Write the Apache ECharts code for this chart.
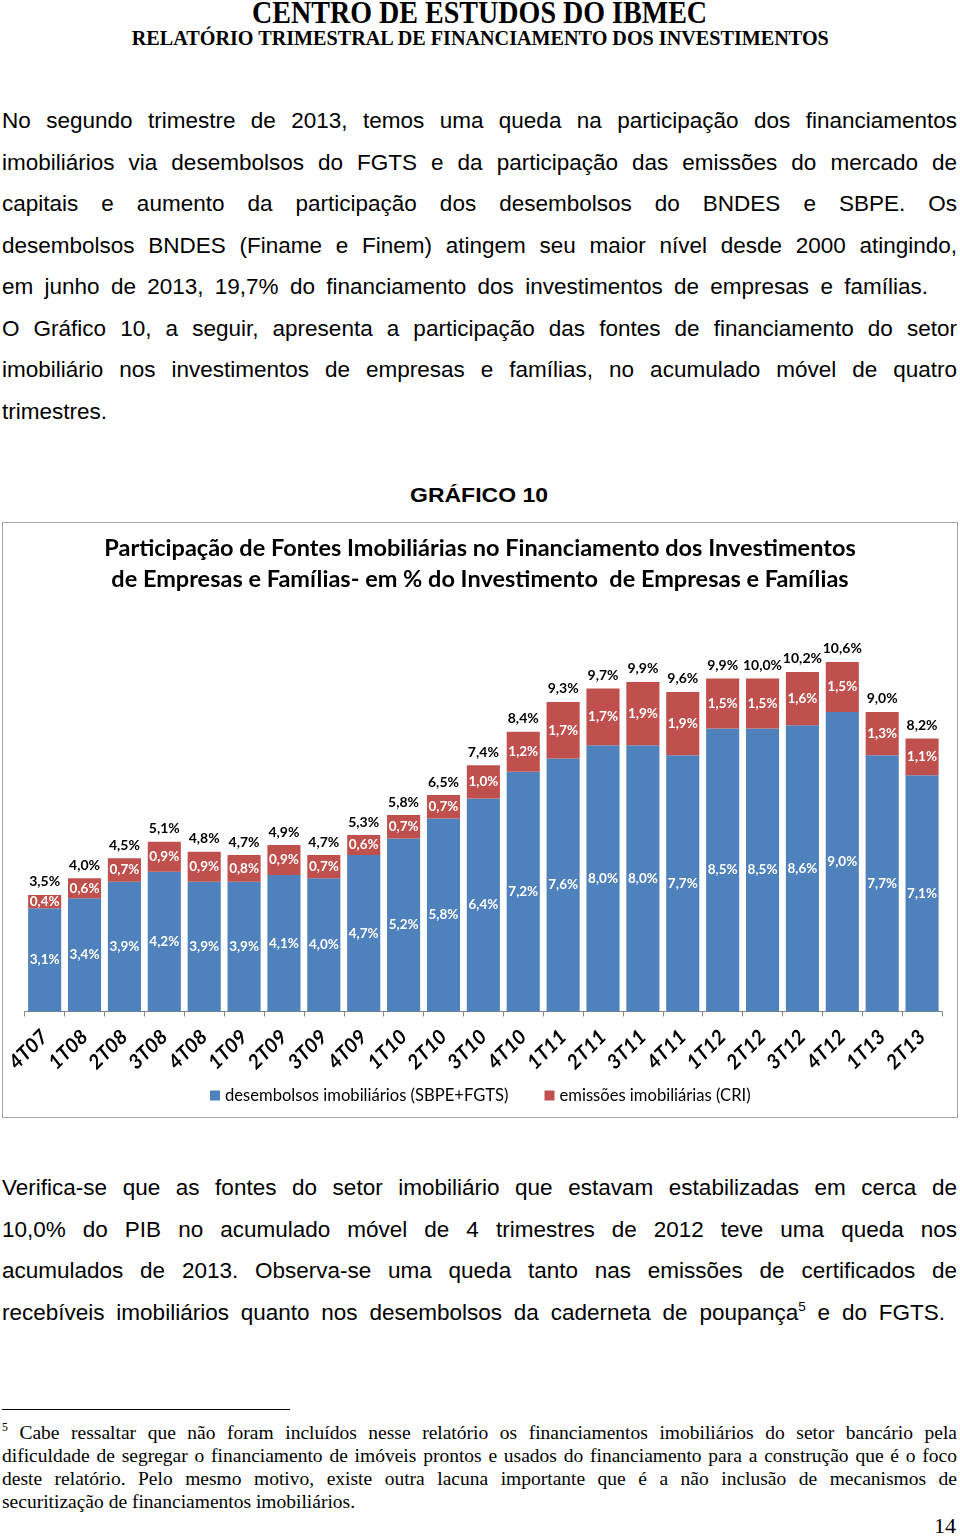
<!DOCTYPE html>
<html>
<head>
<meta charset="utf-8">
<script src="https://cdn.jsdelivr.net/npm/echarts@6/dist/echarts.min.js"></script>
<style>
  html, body { margin: 0; padding: 0; background: #fff; }
  body { width: 960px; height: 1538px; position: relative; overflow: hidden; }
  .abs { position: absolute; }
  .fit { white-space: nowrap; transform-origin: center center; display: inline-block; }
  .serif { font-family: "Liberation Serif", "Times New Roman", serif; }
  .sans { font-family: "Liberation Sans", Arial, Helvetica, sans-serif; }
  .para { position: absolute; left: 2px; width: 955px; font-size: 22.5px; line-height: 41.5px; color: #000; }
  .para div { text-align: justify; text-align-last: justify; }
  .para div.nj { text-align: left; text-align-last: left; }
  .foot { position: absolute; left: 2px; width: 955px; font-size: 19.5px; line-height: 23px; color: #000; }
  .foot div { text-align: justify; text-align-last: justify; }
  .foot div.nj { text-align: left; text-align-last: left; }
  sup { font-size: 0.6em; line-height: 0; vertical-align: 0.7em; }
  #chart { position: absolute; left: 2px; top: 522px; width: 956px; height: 596px; box-sizing: border-box; border: 1px solid #a6a6a6; }
</style>
</head>
<body>
<div class="abs" style="left:0;width:960px;top:-4px;text-align:center;">
  <span class="fit serif" data-w="455" style="font-size:32px;font-weight:bold;line-height:32px;">CENTRO DE ESTUDOS DO IBMEC</span>
</div>
<div class="abs" style="left:0;width:960px;top:27px;text-align:center;">
  <span class="fit serif" data-w="697" style="font-size:22px;font-weight:bold;line-height:22px;">RELATÓRIO TRIMESTRAL DE FINANCIAMENTO DOS INVESTIMENTOS</span>
</div>

<div class="para sans" style="top:100px;">
  <div>No segundo trimestre de 2013, temos uma queda na participação dos financiamentos</div>
  <div>imobiliários via desembolsos do FGTS e da participação das emissões do mercado de</div>
  <div>capitais e aumento da participação dos desembolsos do BNDES e SBPE. Os</div>
  <div>desembolsos BNDES (Finame e Finem) atingem seu maior nível desde 2000 atingindo,</div>
  <div style="width:926px;">em junho de 2013, 19,7% do financiamento dos investimentos de empresas e famílias.</div>
  <div>O Gráfico 10, a seguir, apresenta a participação das fontes de financiamento do setor</div>
  <div>imobiliário nos investimentos de empresas e famílias, no acumulado móvel de quatro</div>
  <div class="nj">trimestres.</div>
</div>

<div class="abs" style="left:0;width:958px;top:482px;text-align:center;">
  <span class="fit sans" data-w="138" style="font-size:21px;font-weight:bold;line-height:26px;">GRÁFICO 10</span>
</div>

<div id="chart"></div>

<div class="para sans" style="top:1167px;">
  <div>Verifica-se que as fontes do setor imobiliário que estavam estabilizadas em cerca de</div>
  <div>10,0% do PIB no acumulado móvel de 4 trimestres de 2012 teve uma queda nos</div>
  <div>acumulados de 2013. Observa-se uma queda tanto nas emissões de certificados de</div>
  <div style="width:943px;">recebíveis imobiliários quanto nos desembolsos da caderneta de poupança<sup>5</sup> e do FGTS.</div>
</div>

<div class="abs" style="left:2px;top:1409px;width:288px;height:1px;background:#000;"></div>

<div class="foot serif" style="top:1421px;">
  <div><sup>5</sup> Cabe ressaltar que não foram incluídos nesse relatório os financiamentos imobiliários do setor bancário pela</div>
  <div>dificuldade de segregar o financiamento de imóveis prontos e usados do financiamento para a construção que é o foco</div>
  <div>deste relatório. Pelo mesmo motivo, existe outra lacuna importante que é a não inclusão de mecanismos de</div>
  <div class="nj">securitização de financiamentos imobiliários.</div>
</div>

<div class="abs serif" style="left:934px;top:1513px;font-size:22px;line-height:26px;">14</div>

<script>
// ---- data ----
const categories = ["4T07","1T08","2T08","3T08","4T08","1T09","2T09","3T09","4T09","1T10","2T10","3T10","4T10","1T11","2T11","3T11","4T11","1T12","2T12","3T12","4T12","1T13","2T13"];
const desembolsos = [3.1,3.4,3.9,4.2,3.9,3.9,4.1,4.0,4.7,5.2,5.8,6.4,7.2,7.6,8.0,8.0,7.7,8.5,8.5,8.6,9.0,7.7,7.1];
const emissoes = [0.4,0.6,0.7,0.9,0.9,0.8,0.9,0.7,0.6,0.7,0.7,1.0,1.2,1.7,1.7,1.9,1.9,1.5,1.5,1.6,1.5,1.3,1.1];
const totais = [3.5,4.0,4.5,5.1,4.8,4.7,4.9,4.7,5.3,5.8,6.5,7.4,8.4,9.3,9.7,9.9,9.6,9.9,10.0,10.2,10.6,9.0,8.2];
const seriesNames = ["desembolsos imobiliários (SBPE+FGTS)", "emissões imobiliárias (CRI)"];
const chartTitle = "Participação de Fontes Imobiliárias no Financiamento dos Investimentos\nde Empresas e Famílias- em % do Investimento  de Empresas e Famílias";

// fit header texts
document.querySelectorAll('.fit').forEach(el => {
  const w = el.getBoundingClientRect().width;
  const target = parseFloat(el.dataset.w);
  el.style.transform = 'scaleX(' + (target / w) + ')';
});

const fmt = v => v.toFixed(1).replace('.', ',') + '%';
const F = 'Lato, "Open Sans", sans-serif';

const chart = echarts.init(document.getElementById('chart'), null, { renderer: 'canvas' });
chart.setOption({
  animation: false,
  textStyle: { fontFamily: F },
  title: {
    text: chartTitle,
    left: 'center',
    top: 5,
    textStyle: { fontFamily: F, fontSize: 23.5, fontWeight: 'bold', color: '#000', lineHeight: 31 }
  },
  legend: {
    data: seriesNames,
    left: 207,
    top: 564,
    padding: 0,
    itemWidth: 10,
    itemHeight: 10,
    itemGap: 36,
    icon: 'rect',
    textStyle: { fontFamily: F, fontSize: 16.6, color: '#000' }
  },
  grid: { left: 21, top: 89, width: 918, height: 399.5, containLabel: false },
  xAxis: {
    type: 'category',
    data: categories,
    boundaryGap: true,
    axisLine: { show: true, lineStyle: { color: '#868686', width: 1 } },
    axisTick: { show: true, length: 5, alignWithLabel: false, lineStyle: { color: '#868686' } },
    axisLabel: { rotate: 45, margin: 22, interval: 0, fontFamily: F, fontSize: 20, fontWeight: 'bold', fontStyle: 'italic', color: '#000' }
  },
  yAxis: { type: 'value', min: 0, max: 12, show: false, splitLine: { show: false } },
  series: [
    {
      name: seriesNames[0], type: 'bar', stack: 'a', stackStrategy: 'all',
      data: desembolsos, barCategoryGap: '17%',
      itemStyle: { color: '#4F81BD' },
      label: { show: true, position: 'inside', color: '#fff', fontFamily: F, fontSize: 13.5, fontWeight: 'bold', formatter: p => fmt(p.value) }
    },
    {
      name: seriesNames[1], type: 'bar', stack: 'a', stackStrategy: 'all',
      data: emissoes,
      itemStyle: { color: '#C0504D' },
      label: { show: true, position: 'inside', color: '#fff', fontFamily: F, fontSize: 13.5, fontWeight: 'bold', formatter: p => fmt(p.value) }
    },
    {
      name: 'total', type: 'bar', stack: 'a', stackStrategy: 'all',
      data: totais.map(() => 0),
      itemStyle: { color: 'rgba(0,0,0,0)' },
      label: { show: true, position: 'top', distance: 6, color: '#000', fontFamily: F, fontSize: 14, fontWeight: 'bold', formatter: p => fmt(totais[p.dataIndex]) }
    }
  ]
});
</script>
</body>
</html>
